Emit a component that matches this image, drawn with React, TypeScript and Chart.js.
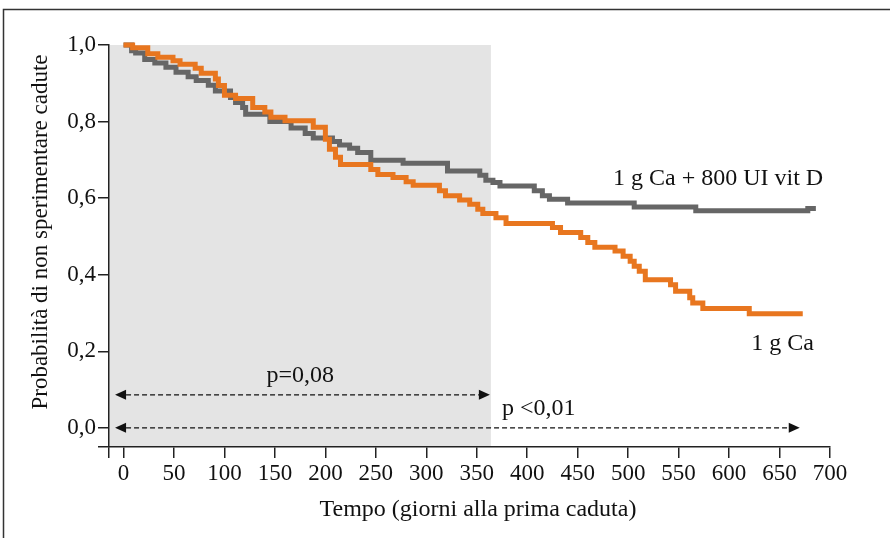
import { useEffect, useRef } from "react";
import { Chart, registerables } from "chart.js";

Chart.register(...registerables);

const FONT = "'Liberation Serif', 'Times New Roman', serif";

// X axis (days) and Y axis (probability)
const xMin = -14.4;
const xMax = 700;
const xTicks = [0, 50, 100, 150, 200, 250, 300, 350, 400, 450, 500, 550, 600, 650, 700];
const yMin = -0.05;
const yMax = 1.0;
const yTicks = [0, 0.2, 0.4, 0.6, 0.8, 1.0];
const shadeEnd = 364;

// 1 g Ca (orange): time at which each survival value begins
const caTimes = [0, 9, 24, 34, 49, 56, 71, 77, 91, 94, 100, 111, 128, 140, 146, 160, 188, 200, 204, 210, 215, 245, 252, 267, 280, 287, 313, 319, 333, 343, 351, 356, 369, 379, 425, 433, 453, 460, 467, 487, 495, 502, 506, 511, 517, 542, 547, 561, 564, 574, 620, 673];
const caSurv = [1.0, 0.993, 0.977, 0.968, 0.959, 0.95, 0.939, 0.926, 0.911, 0.894, 0.869, 0.86, 0.837, 0.825, 0.811, 0.802, 0.785, 0.754, 0.728, 0.707, 0.688, 0.675, 0.662, 0.654, 0.643, 0.634, 0.619, 0.606, 0.595, 0.584, 0.571, 0.56, 0.549, 0.534, 0.523, 0.51, 0.497, 0.484, 0.472, 0.462, 0.448, 0.435, 0.422, 0.409, 0.387, 0.374, 0.357, 0.34, 0.326, 0.312, 0.298, 0.298];

// 1 g Ca + 800 UI vit D (grey)
const cadTimes = [0, 8, 12, 21, 31, 42, 52, 64, 72, 84, 91, 106, 111, 118, 121, 145, 166, 180, 188, 207, 214, 224, 232, 245, 277, 321, 353, 359, 366, 373, 407, 415, 422, 440, 506, 567, 678, 686];
const cadSurv = [1.0, 0.985, 0.979, 0.962, 0.953, 0.942, 0.929, 0.917, 0.907, 0.895, 0.88, 0.863, 0.85, 0.837, 0.819, 0.8, 0.783, 0.769, 0.757, 0.748, 0.739, 0.73, 0.719, 0.699, 0.691, 0.671, 0.66, 0.647, 0.641, 0.632, 0.619, 0.606, 0.597, 0.587, 0.577, 0.567, 0.573, 0.573];

const seriesNames = ["1 g Ca", "1 g Ca + 800 UI vit D"];
const pTexts = ["p=0,08", "p <0,01"];
const xTitle = "Tempo (giorni alla prima caduta)";
const yTitle = "Probabilità di non sperimentare cadute";

function fmtY(v: number) {
  return v.toFixed(1).replace(".", ",");
}

function drawArrow(ctx: CanvasRenderingContext2D, xa: number, xb: number, yy: number) {
  const hl = 11;
  const hh = 5;
  ctx.save();
  ctx.strokeStyle = "#111";
  ctx.fillStyle = "#111";
  ctx.lineWidth = 1.2;
  ctx.setLineDash([5, 3]);
  ctx.beginPath();
  ctx.moveTo(xa + hl, yy);
  ctx.lineTo(xb - hl, yy);
  ctx.stroke();
  ctx.setLineDash([]);
  ctx.beginPath();
  ctx.moveTo(xa, yy);
  ctx.lineTo(xa + hl, yy - hh);
  ctx.lineTo(xa + hl, yy + hh);
  ctx.closePath();
  ctx.fill();
  ctx.beginPath();
  ctx.moveTo(xb, yy);
  ctx.lineTo(xb - hl, yy - hh);
  ctx.lineTo(xb - hl, yy + hh);
  ctx.closePath();
  ctx.fill();
  ctx.restore();
}

const overlay = {
  id: "overlay",
  beforeDraw(chart: any) {
    const { ctx, chartArea, scales } = chart;
    const x = scales.x;
    const y = scales.y;
    ctx.save();
    ctx.fillStyle = "#ffffff";
    ctx.fillRect(0, 0, chart.width, chart.height);
    ctx.fillStyle = "#e4e4e4";
    const x0 = chartArea.left;
    const x1 = x.getPixelForValue(shadeEnd);
    const y0 = y.getPixelForValue(yMax);
    const y1 = chartArea.bottom;
    ctx.fillRect(x0, y0, x1 - x0, y1 - y0);
    ctx.restore();
  },
  afterDatasetsDraw(chart: any) {
    const { ctx, scales } = chart;
    const x = scales.x;
    const y = scales.y;
    drawArrow(ctx, x.getPixelForValue(-8.4), x.getPixelForValue(363), y.getPixelForValue(0.0863));
    drawArrow(ctx, x.getPixelForValue(-8.4), x.getPixelForValue(670), y.getPixelForValue(0));
    ctx.save();
    ctx.fillStyle = "#111";
    ctx.font = `24px ${FONT}`;
    ctx.textBaseline = "alphabetic";
    ctx.textAlign = "left";
    ctx.fillText(seriesNames[1], x.getPixelForValue(485), y.getPixelForValue(0.635));
    ctx.fillText(seriesNames[0], x.getPixelForValue(622), y.getPixelForValue(0.204));
    ctx.fillText(pTexts[1], x.getPixelForValue(375), y.getPixelForValue(0.034));
    ctx.textAlign = "center";
    ctx.fillText(pTexts[0], x.getPixelForValue(175), y.getPixelForValue(0.12));
    ctx.restore();
  },
  afterDraw(chart: any) {
    const { ctx } = chart;
    ctx.save();
    ctx.strokeStyle = "#333";
    ctx.lineWidth = 1.5;
    ctx.beginPath();
    ctx.moveTo(3.5, chart.height);
    ctx.lineTo(3.5, 9.5);
    ctx.lineTo(chart.width, 9.5);
    ctx.stroke();
    ctx.fillStyle = "#111";
    ctx.font = `24px ${FONT}`;
    ctx.textAlign = "center";
    ctx.textBaseline = "alphabetic";
    ctx.fillText(xTitle, 478, 516);
    ctx.translate(41, 232);
    ctx.rotate(-Math.PI / 2);
    ctx.font = `23px ${FONT}`;
    ctx.textBaseline = "middle";
    ctx.fillText(yTitle, 0, 0);
    ctx.restore();
  },
};

export default function App() {
  const ref = useRef<HTMLCanvasElement>(null);
  useEffect(() => {
    const canvas = ref.current;
    if (!canvas) return;
    const chart = new Chart(canvas, {
      type: "line",
      data: {
        datasets: [
          {
            label: seriesNames[0],
            data: caTimes.map((t, i) => ({ x: t, y: caSurv[i] })),
            borderColor: "#e8761f",
            borderWidth: 5,
            stepped: "before",
            pointRadius: 0,
            fill: false,
            clip: false as any,
            borderJoinStyle: "miter",
          },
          {
            label: seriesNames[1],
            data: cadTimes.map((t, i) => ({ x: t, y: cadSurv[i] })),
            borderColor: "#666666",
            borderWidth: 5,
            stepped: "before",
            pointRadius: 0,
            fill: false,
            clip: false as any,
            borderJoinStyle: "miter",
          },
        ],
      },
      options: {
        animation: false,
        responsive: false,
        devicePixelRatio: 1,
        layout: { padding: { top: 45, right: 60, left: 0, bottom: 0 } },
        plugins: { legend: { display: false }, tooltip: { enabled: false } },
        scales: {
          x: {
            type: "linear",
            min: xMin,
            max: xMax,
            afterBuildTicks: (s: any) => {
              s.ticks = [xMin, ...xTicks].map((v) => ({ value: v }));
            },
            afterFit: (s: any) => {
              s.height = 91;
            },
            grid: { drawOnChartArea: false, drawTicks: true, tickLength: 11, color: "#222", lineWidth: 1.5 },
            border: { display: true, color: "#222", width: 1.5 },
            ticks: {
              autoSkip: false,
              maxRotation: 0,
              padding: 2,
              color: "#111",
              font: { family: FONT, size: 23 },
              callback: (v: any) => (v === xMin ? "" : String(v)),
            },
          },
          y: {
            type: "linear",
            min: yMin,
            max: yMax,
            afterBuildTicks: (s: any) => {
              s.ticks = [yMin, ...yTicks].map((v) => ({ value: v }));
            },
            afterFit: (s: any) => {
              s.width = 109;
            },
            grid: { drawOnChartArea: false, drawTicks: true, tickLength: 11, color: "#222", lineWidth: 1.5 },
            border: { display: true, color: "#222", width: 1.5 },
            ticks: {
              autoSkip: false,
              padding: 2,
              color: "#111",
              font: { family: FONT, size: 23 },
              callback: (v: any) => (v === yMin ? "" : fmtY(Number(v))),
            },
          },
        },
      },
      plugins: [overlay],
    });
    return () => chart.destroy();
  }, []);
  return (
    <div style={{ position: "fixed", left: 0, top: 0, width: 890, height: 538, background: "#fff" }}>
      <canvas ref={ref} width={890} height={538} style={{ display: "block", width: 890, height: 538 }} />
    </div>
  );
}
